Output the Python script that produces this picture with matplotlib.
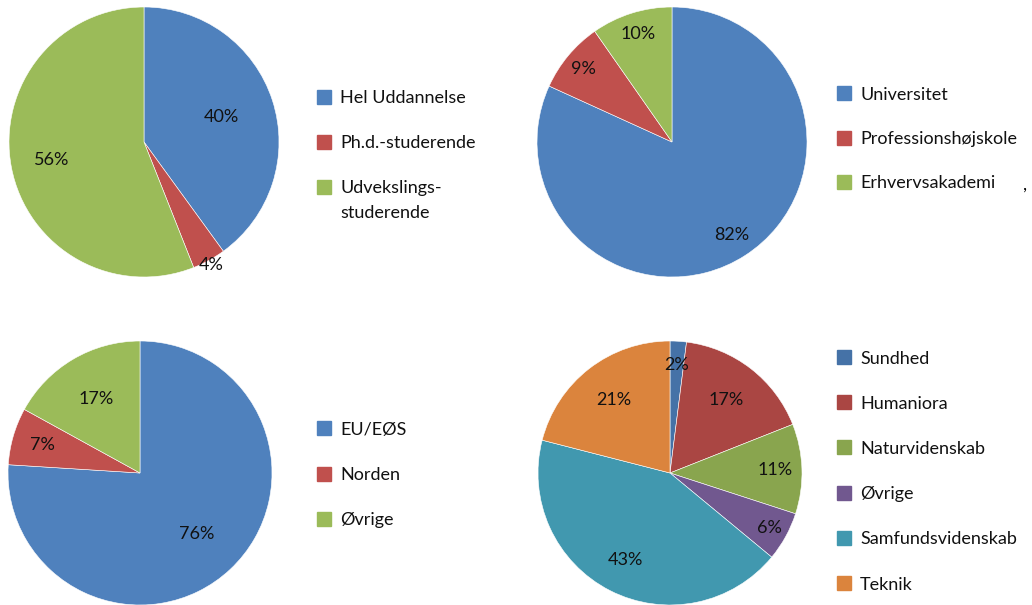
import numpy as np
import matplotlib.pyplot as plt
from matplotlib.patches import Rectangle

# data
uddannelse_labels = ['Hel Uddannelse', 'Ph.d.-studerende', 'Udvekslings-\nstuderende']
uddannelse_values = [40, 4, 56]
uddannelse_pct = [40, 4, 56]

institution_labels = ['Universitet', 'Professionshøjskole', 'Erhvervsakademi']
institution_values = [81.8, 8.5, 9.7]
institution_pct = [82, 9, 10]

region_labels = ['EU/EØS', 'Norden', 'Øvrige']
region_values = [76, 7, 17]
region_pct = [76, 7, 17]

fag_labels = ['Sundhed', 'Humaniora', 'Naturvidenskab', 'Øvrige', 'Samfundsvidenskab', 'Teknik']
fag_values = [2, 17, 11, 6, 43, 21]
fag_pct = [2, 17, 11, 6, 43, 21]

c07 = ['#4F81BD', '#C0504D', '#9BBB59']
c03 = ['#4572A7', '#AA4643', '#89A54E', '#71588F', '#4198AF', '#DB843D']

W, H = 1032, 605
FS = 13
plt.rcParams['font.family'] = ['Lato', 'DejaVu Sans']
fig = plt.figure(figsize=(W / 100, H / 100), dpi=100)


def legend_at(labels, colors, x, y0, step):
    # hand-made legend so the square sits on the first line of a wrapped label
    for i, (lab, col) in enumerate(zip(labels, colors)):
        y = y0 + i * step
        fig.patches.append(Rectangle((x / W, 1 - (y + 7) / H), 14 / W, 14 / H,
                                     transform=fig.transFigure, color=col))
        for j, line in enumerate(lab.split('\n')):
            fig.text((x + 23) / W, 1 - (y + 6.5 + 25 * j) / H, line, va='baseline',
                     ha='left', fontsize=FS, color='#111111')


def pie_at(cx, cy, r, values, pct, colors, dists):
    ax = fig.add_axes([(cx - r) / W, (H - cy - r) / H, 2 * r / W, 2 * r / H])
    wedges, _ = ax.pie(values, colors=colors, startangle=90, counterclock=False,
                       wedgeprops=dict(edgecolor='white', linewidth=0.4))
    for w, p, d in zip(wedges, pct, dists):
        ang = np.deg2rad((w.theta1 + w.theta2) / 2)
        ax.text(d * np.cos(ang), d * np.sin(ang), f'{p}%', ha='center', va='center',
                fontsize=FS, color='#111111')
    ax.set_xlim(-1, 1)
    ax.set_ylim(-1, 1)
    ax.set_aspect('equal')
    ax.axis('off')
    return ax


pie_at(144, 142, 135, uddannelse_values, uddannelse_pct, c07, [0.6, 1.04, 0.7])
legend_at(uddannelse_labels, c07, 317, 97, 45)

pie_at(672, 142, 135, institution_values, institution_pct, c07, [0.82, 0.85, 0.84])
legend_at(institution_labels, c07, 837, 93, 44.5)

pie_at(140, 473, 132, region_values, region_pct, c07, [0.63, 0.77, 0.65])
legend_at(region_labels, c07, 317, 428, 45.5)

pie_at(670, 473, 132, fag_values, fag_pct, c03, [0.82, 0.7, 0.8, 0.86, 0.74, 0.7])
legend_at(fag_labels, c03, 837, 357, 45.2)

fig.text(1025 / W, 1 - 185 / H, ',', fontsize=FS, ha='center', va='center')

fig.savefig('out.png', dpi=100)
